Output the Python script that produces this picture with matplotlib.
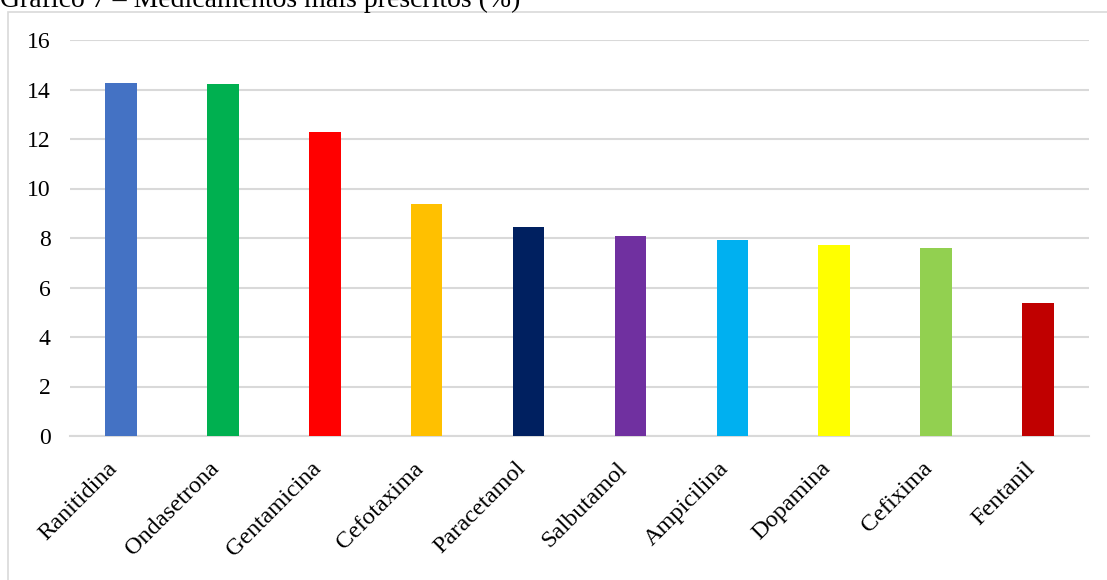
import matplotlib
matplotlib.use("Agg")
import matplotlib.pyplot as plt
from matplotlib.patches import Rectangle
from matplotlib.transforms import ScaledTranslation, blended_transform_factory

categories = ["Ranitidina", "Ondasetrona", "Gentamicina", "Cefotaxima", "Paracetamol",
              "Salbutamol", "Ampicilina", "Dopamina", "Cefixima", "Fentanil"]
values = [14.26, 14.22, 12.28, 9.37, 8.44, 8.08, 7.92, 7.72, 7.6, 5.37]
colors = ["#4472C4", "#00B050", "#FF0000", "#FFC000", "#002060",
          "#7030A0", "#00B0F0", "#FFFF00", "#92D050", "#C00000"]
yticks = [0, 2, 4, 6, 8, 10, 12, 14, 16]
title = "Gráfico 7 – Medicamentos mais prescritos (%)"

plt.rcParams['font.family'] = ['Liberation Serif', 'DejaVu Serif']

W, H = 1107, 580
fig = plt.figure(figsize=(W/100, H/100), dpi=100)
fig.patch.set_facecolor('white')

# outer chart border (partially cropped)
fig.patches.append(Rectangle((8/W, -0.2), 1.5, 1.2 - 12/H, transform=fig.transFigure,
                             fill=False, edgecolor='#d9d9d9', linewidth=1.2))

fig.text(0.0, 1 - 7/H, title, fontsize=20, va='baseline', ha='left', color='black')

ax = fig.add_axes([70/W, 1 - 436/H, (1089-70)/W, (436-40)/H])
x = list(range(len(categories)))
ax.bar(x, values, width=0.31, color=colors, zorder=3)
ax.set_xlim(-0.5, len(categories) - 0.5)
ax.set_ylim(0, 16)
ax.set_yticks(yticks)
ax.set_yticklabels([str(v) for v in yticks], fontsize=17)
ax.set_xticks(x)
ax.set_xticklabels([])
trans = blended_transform_factory(ax.transData, ax.transAxes) + \
    ScaledTranslation(-14/100, -22/100, fig.dpi_scale_trans)
for xi, name in zip(x, categories):
    ax.text(xi, 0, name, transform=trans, rotation=45, ha='right', va='top',
            rotation_mode='anchor', fontsize=17.5, clip_on=False)
ax.tick_params(axis='both', length=0)
ax.tick_params(axis='y', pad=14)
ax.grid(axis='y', color='#d9d9d9', linewidth=1.5, zorder=0)
for s in ['top', 'right', 'left']:
    ax.spines[s].set_visible(False)
ax.spines['bottom'].set_color('#d9d9d9')
ax.spines['bottom'].set_linewidth(1.5)

fig.savefig('out.png', dpi=100, facecolor='white')
